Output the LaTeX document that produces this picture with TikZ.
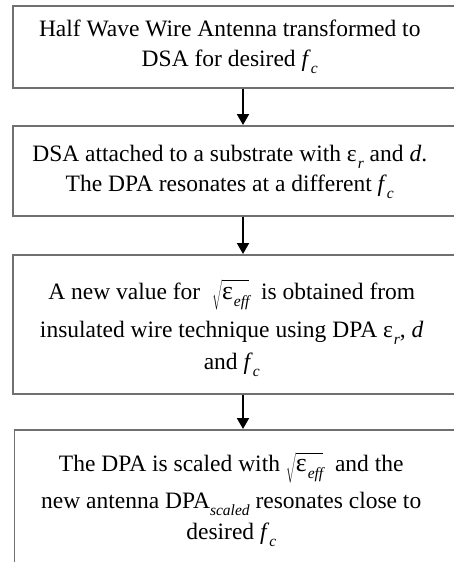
\documentclass[tikz,border=0pt]{standalone}
\usepackage{fontspec}
\setmainfont{Liberation Serif}
\usetikzlibrary{arrows.meta}
\definecolor{boxgray}{HTML}{707070}
\newcommand{\sbs}[1]{\raisebox{-0.3em}{\fontsize{15.5}{15.5}\selectfont\itshape #1}}
\newcommand{\fcx}{\textit{f}\sbs{c}}
\newcommand{\epsr}{ε\kern1pt\sbs{r}}
\newcommand{\sqeps}{$\sqrt{\vphantom{A}\mbox{\scalebox{1.1}{ε}\kern1pt\sbs{eff}}}$}
\begin{document}
\begin{tikzpicture}[x=1pt,y=-1pt,
  box/.style={draw=boxgray, line width=1.5pt, anchor=north west,
    inner sep=0pt, minimum width=444pt},
  txt/.style={align=center, inner sep=0pt, font=\fontsize{23.5}{30}\selectfont},
  flow/.style={-{Triangle[length=11pt,width=12pt]}, line width=2pt}]
\clip (0,0) rectangle (454,562);
\node[box, minimum height=82pt] (b1) at (12,5) {};
\node[box, minimum height=90pt] (b2) at (12,125) {};
\node[box, minimum height=139pt] (b3) at (12,254) {};
\node[box, minimum height=136pt] (b4) at (13.5,429) {};
\node[txt] (t1) at ([xshift=-5pt]b1.center)
  {Half Wave Wire Antenna transformed to\\ DSA for desired \fcx};
\node[txt] (t2) at ([xshift=-5pt,yshift=-1pt]b2.center)
  {DSA attached to a substrate with \epsr\ and \textit{d}.\\ The DPA resonates at a different \fcx};
\node[txt] (t3) at ([xshift=-3pt,yshift=-4pt]b3.center)
  {A new value for \ \sqeps\ \ is obtained from\\[8pt] insulated wire technique using DPA \epsr, \textit{d}\\[2pt] and \fcx};
\node[txt] (t4) at ([xshift=-5pt,yshift=-2pt]b4.center)
  {The DPA is scaled with \sqeps\ \ and the\\[7pt] new antenna DPA\sbs{scaled} resonates close to\\[1pt] desired \fcx};
\coordinate (ax) at (243,0);
\draw[flow] (b1.south -| ax) -- (b2.north -| ax);
\draw[flow] (b2.south -| ax) -- (b3.north -| ax);
\draw[flow] (b3.south -| ax) -- (b4.north -| ax);
\end{tikzpicture}
\end{document}
